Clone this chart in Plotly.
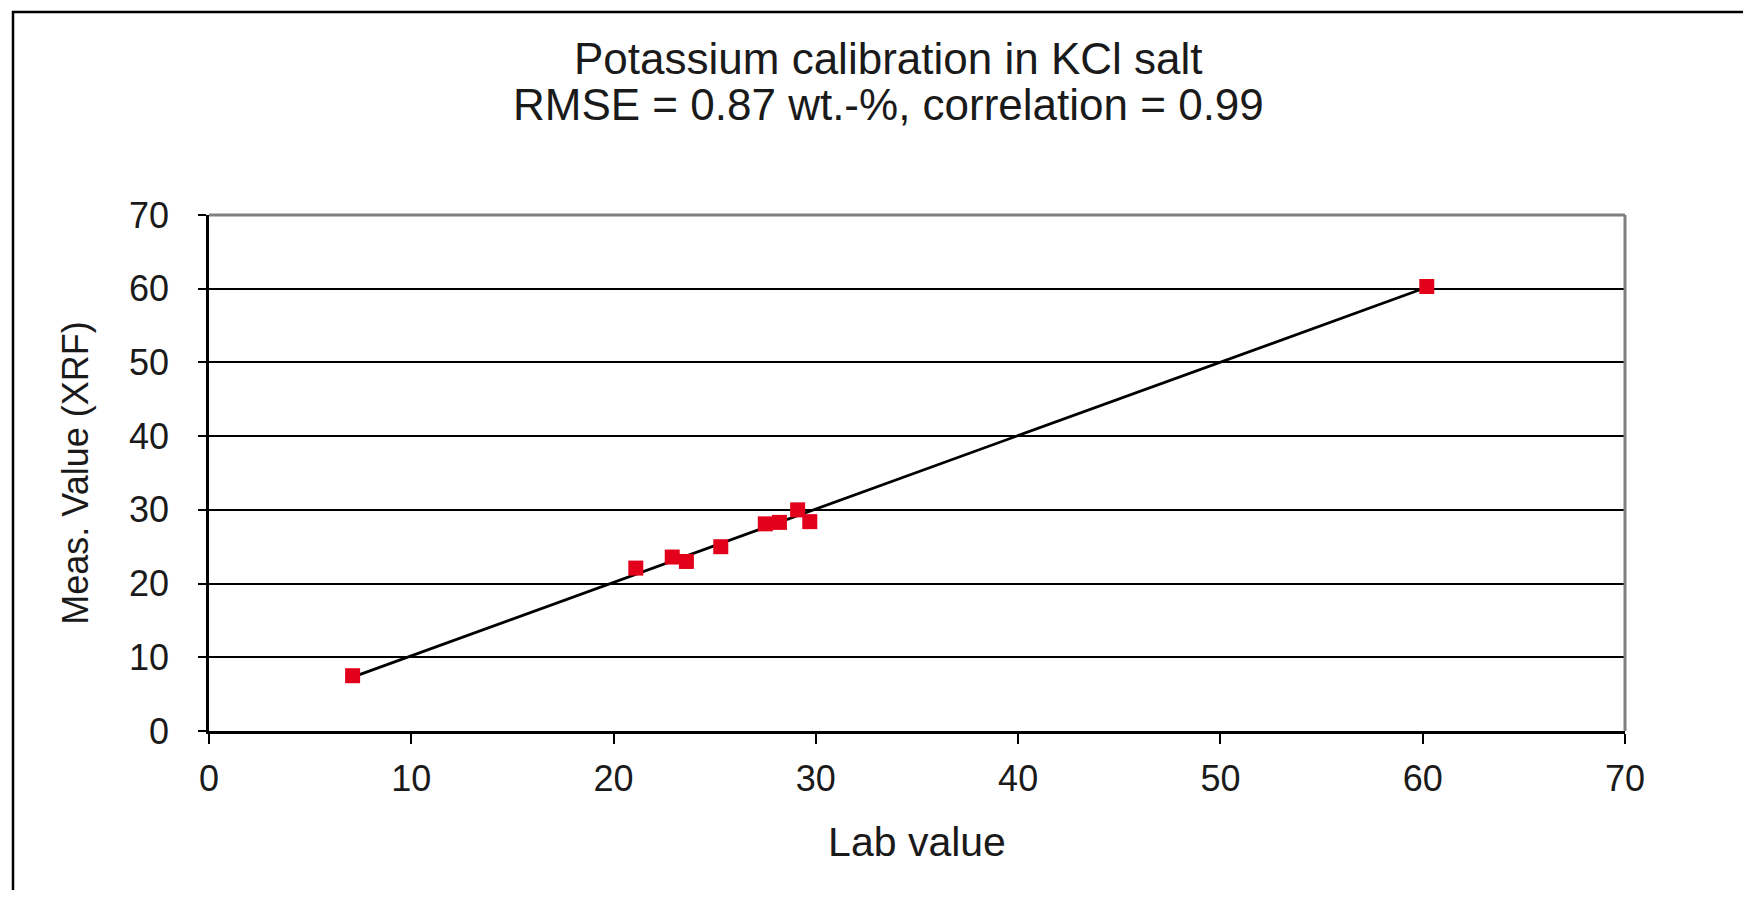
import plotly.graph_objects as go

# ---- data ----
lab_value = [7.1, 21.1, 22.9, 23.6, 25.3, 27.5, 28.2, 29.1, 29.7, 60.2]
meas_value = [7.5, 22.1, 23.6, 23.0, 25.0, 28.1, 28.3, 30.0, 28.4, 60.3]
fit_x = [7.1, 60.2]
fit_y = [7.3, 60.2]
tick_vals = [0, 10, 20, 30, 40, 50, 60, 70]
title_line1 = "Potassium calibration in KCl salt"
title_line2 = "RMSE = 0.87 wt.-%, correlation = 0.99"
x_title = "Lab value"
y_title = "Meas. Value (XRF)"

FONT = "Liberation Sans, Arial, sans-serif"
TXT = "#1a1a1a"

# the page body has an 8px default margin; size the figure so no scrollbar appears
W, H = 1743, 882
L, R, T, B = 201, 126, 207, 159
PW, PH = W - L - R, H - T - B


def px(xp):
    return (xp - 8 - L) / PW


def py(yp):
    return (H - B - (yp - 8)) / PH


fig = go.Figure()
fig.add_trace(go.Scatter(x=fit_x, y=fit_y, mode="lines",
                         line=dict(color="black", width=2.8),
                         showlegend=False, hoverinfo="skip"))
fig.add_trace(go.Scatter(x=lab_value, y=meas_value, mode="markers",
                         marker=dict(symbol="square", size=15, color="#E3001B",
                                     line=dict(width=0)),
                         showlegend=False))

fig.update_layout(
    width=W, height=H,
    margin=dict(l=L, r=R, t=T, b=B, pad=0),
    paper_bgcolor="white", plot_bgcolor="white",
    font=dict(family=FONT, color=TXT),
    showlegend=False,
)

fig.update_xaxes(
    range=[0, 70], tickvals=tick_vals, ticktext=[str(v) for v in tick_vals],
    showgrid=False, zeroline=False,
    showline=True, linecolor="black", linewidth=2.5,
    ticks="outside", ticklen=10, tickwidth=2, tickcolor="black",
    tickfont=dict(size=36, family=FONT, color=TXT),
    ticklabelstandoff=4,
    title=dict(text=x_title, font=dict(size=41, family=FONT, color=TXT), standoff=30),
)
fig.update_yaxes(
    range=[0, 70], tickvals=tick_vals, ticktext=[str(v) for v in tick_vals],
    showgrid=True, gridcolor="black", gridwidth=2, zeroline=False,
    showline=True, linecolor="black", linewidth=2.5,
    ticks="outside", ticklen=8, tickwidth=2, tickcolor="black",
    tickfont=dict(size=36, family=FONT, color=TXT),
    ticklabelstandoff=22,
    title=dict(text=y_title, font=dict(size=36, family=FONT, color=TXT), standoff=30),
)

shapes = [
    # grey top and right frame of the plot area
    dict(type="line", xref="paper", yref="paper", x0=0, x1=1, y0=1, y1=1,
         line=dict(color="#808080", width=3)),
    dict(type="line", xref="paper", yref="paper", x0=1, x1=1, y0=0, y1=1,
         line=dict(color="#808080", width=3)),
    # outer chart-area border (extends past right/bottom edge of the image)
    dict(type="rect", xref="paper", yref="paper",
         x0=px(13), x1=px(1790), y0=py(930), y1=py(12),
         line=dict(color="black", width=2.5), fillcolor="rgba(0,0,0,0)", layer="above"),
]
fig.update_layout(shapes=shapes)

fig.add_annotation(text=title_line1, xref="paper", yref="paper",
                   x=px(888), y=py(59),
                   xanchor="center", yanchor="middle", showarrow=False,
                   font=dict(size=44, family=FONT, color=TXT))
fig.add_annotation(text=title_line2, xref="paper", yref="paper",
                   x=px(888), y=py(104),
                   xanchor="center", yanchor="middle", showarrow=False,
                   font=dict(size=44, family=FONT, color=TXT))

fig.write_html("out.html")
